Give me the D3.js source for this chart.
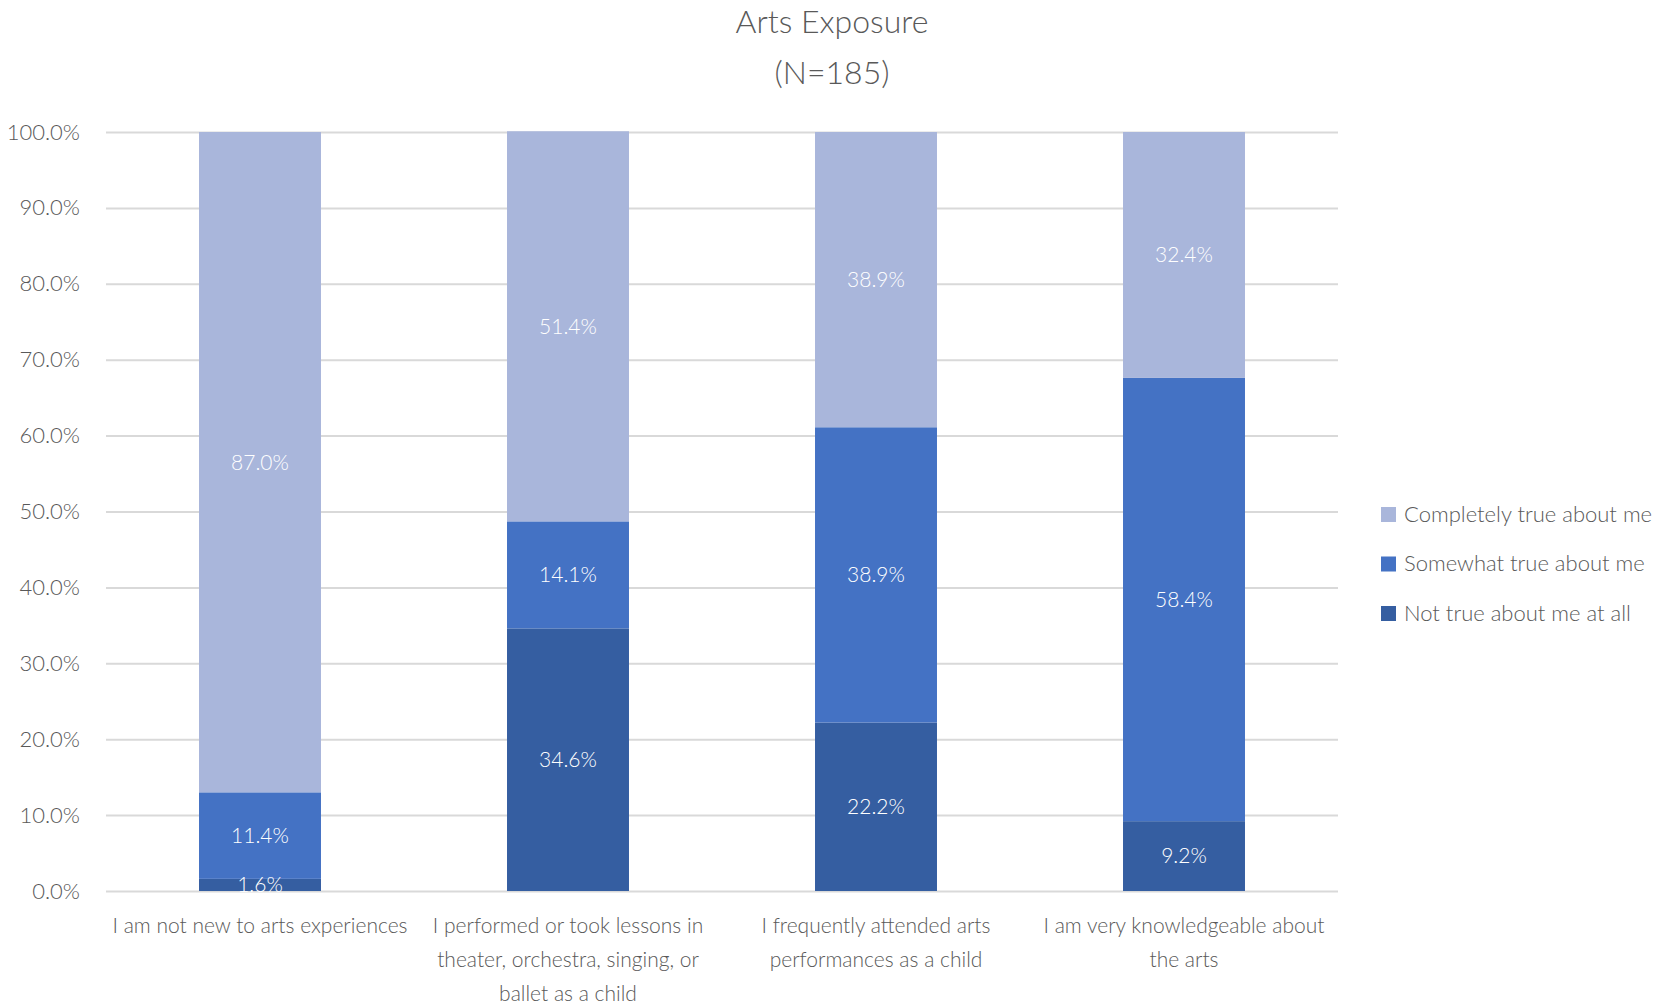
<!DOCTYPE html>
<html>
<head>
<meta charset="utf-8">
<script src="https://cdn.jsdelivr.net/npm/d3@7"></script>
<style>
  html, body { margin: 0; padding: 0; background: #fff; }
  svg { display: block; }
  text { font-family: Lato, "Open Sans", sans-serif; font-weight: 300; }
</style>
</head>
<body>
<svg id="chart" width="1665" height="1008"></svg>
<script>
const categories = [
  "I am not new to arts experiences",
  "I performed or took lessons in theater, orchestra, singing, or ballet as a child",
  "I frequently attended arts performances as a child",
  "I am very knowledgeable about the arts"
];
const seriesNames = ["Not true about me at all", "Somewhat true about me", "Completely true about me"];
const notTrue = [1.6, 34.6, 22.2, 9.2];
const somewhatTrue = [11.4, 14.1, 38.9, 58.4];
const completelyTrue = [87.0, 51.4, 38.9, 32.4];
const yTicks = [0, 10, 20, 30, 40, 50, 60, 70, 80, 90, 100];
const titleLines = ["Arts Exposure", "(N=185)"];

const colors = ["#355EA1", "#4472C4", "#A9B6DB"];

const svg = d3.select("#chart");
const margin = { left: 106, right: 1338, top: 132, bottom: 891 };

const x = d3.scaleBand().domain(categories).range([margin.left, margin.right]).paddingInner(0.604).paddingOuter(0.302);
const y = d3.scaleLinear().domain([0, 100]).range([margin.bottom, margin.top]);

// Title
svg.append("g").selectAll("text").data(titleLines).join("text")
  .attr("x", 832).attr("y", (d, i) => 33 + i * 51)
  .attr("text-anchor", "middle")
  .attr("font-size", 32).attr("fill", "#595959")
  .text(d => d);

// Gridlines + y axis
const yAxis = d3.axisLeft(y).tickValues(yTicks).tickSize(-(margin.right - margin.left)).tickFormat(d => d.toFixed(1) + "%");
const gy = svg.append("g").attr("transform", `translate(${margin.left},0)`).call(yAxis);
gy.select(".domain").remove();
gy.selectAll(".tick line").attr("stroke", "#D9D9D9").attr("stroke-width", 2);
gy.selectAll(".tick text").attr("x", -26).attr("font-size", 22).attr("fill", "#595959")
  .attr("font-family", "Lato, sans-serif").attr("font-weight", 300);

// Stack
const rows = categories.map((c, i) => ({ cat: c, s0: notTrue[i], s1: somewhatTrue[i], s2: completelyTrue[i] }));
const stack = d3.stack().keys(["s0", "s1", "s2"]);
const stacked = stack(rows);

const layers = svg.append("g").selectAll("g").data(stacked).join("g").attr("fill", (d, i) => colors[i]);
layers.selectAll("rect").data(d => d).join("rect")
  .attr("x", d => x(d.data.cat))
  .attr("width", x.bandwidth())
  .attr("y", d => y(d[1]))
  .attr("height", d => y(d[0]) - y(d[1]));

// Value labels
const labels = svg.append("g");
stacked.forEach((layer, li) => {
  labels.selectAll(null).data(layer).join("text")
    .attr("x", d => x(d.data.cat) + x.bandwidth() / 2)
    .attr("y", d => (y(d[0]) + y(d[1])) / 2)
    .attr("dy", "0.35em")
    .attr("text-anchor", "middle")
    .attr("font-size", 21).attr("fill", "#ffffff")
    .text(d => (d[1] - d[0]).toFixed(1) + "%");
});

// Category labels with wrapping
function wrap(textSel, width) {
  textSel.each(function () {
    const text = d3.select(this);
    const words = text.text().split(/\s+/);
    const xx = text.attr("x");
    text.text(null);
    let line = [];
    let tspan = text.append("tspan").attr("x", xx).attr("dy", 0);
    words.forEach(w => {
      line.push(w);
      tspan.text(line.join(" "));
      if (tspan.node().getComputedTextLength() > width && line.length > 1) {
        line.pop();
        tspan.text(line.join(" "));
        line = [w];
        tspan = text.append("tspan").attr("x", xx).attr("dy", 34).text(w);
      }
    });
  });
}
svg.append("g").selectAll("text").data(categories).join("text")
  .attr("x", d => x(d) + x.bandwidth() / 2)
  .attr("y", 933)
  .attr("text-anchor", "middle")
  .attr("font-size", 21).attr("fill", "#595959")
  .text(d => d)
  .call(wrap, 302);

// Legend
const legendOrder = [2, 1, 0];
const lg = svg.append("g").selectAll("g").data(legendOrder).join("g")
  .attr("transform", (d, i) => `translate(1381, ${514 + i * 49.5})`);
lg.append("rect").attr("x", 0).attr("y", -7).attr("width", 15).attr("height", 15).attr("fill", d => colors[d]);
lg.append("text").attr("x", 23).attr("y", 0).attr("dy", "0.35em")
  .attr("font-size", 22).attr("fill", "#595959").text(d => seriesNames[d]);
</script>
</body>
</html>
